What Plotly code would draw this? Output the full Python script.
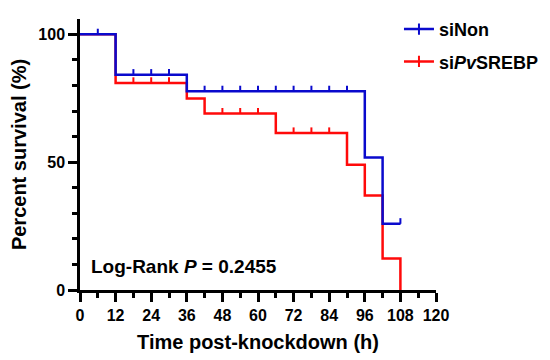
import plotly.graph_objects as go

# Step data (Kaplan-Meier)
blue_name = "siNon"
blue_t = [0, 12, 36, 96, 102, 108]
blue_s = [100, 84.2, 77.7, 51.8, 25.9, 25.9]
blue_cens_t = [6, 18, 24, 30, 42, 48, 54, 60, 66, 72, 78, 84, 90, 108]
blue_cens_s = [100, 84.2, 84.2, 84.2, 77.7, 77.7, 77.7, 77.7, 77.7, 77.7, 77.7, 77.7, 77.7, 25.9]

red_name = "si<i>Pv</i>SREBP"
red_t = [0, 12, 36, 42, 66, 90, 96, 102, 108]
red_s = [100, 81.0, 74.9, 69.0, 61.4, 49.0, 37.0, 12.3, 0]
red_cens_t = [18, 24, 30, 48, 54, 60, 72, 78, 84]
red_cens_s = [81.0, 81.0, 81.0, 69.0, 69.0, 69.0, 61.4, 61.4, 61.4]

x_ticks = [0, 12, 24, 36, 48, 60, 72, 84, 96, 108, 120]
y_ticks = [0, 50, 100]

BLUE = "#0A0ACD"
RED = "#FF0A0A"
FONT = "Liberation Sans, Arial, sans-serif"
LW = 2.5
CENS_H = 2.2  # censor tick height (in % units)

fig = go.Figure()

# legend-only entries
for name, col in [(blue_name, BLUE), (red_name, RED)]:
    fig.add_trace(go.Scatter(
        x=[None], y=[None], mode="lines+markers", name=name,
        line=dict(color=col, width=LW),
        marker=dict(symbol="line-ns", size=8, line=dict(color=col, width=2)),
        legendgroup=name,
    ))

for t, s, ct, cs, col in [(red_t, red_s, red_cens_t, red_cens_s, RED),
                          (blue_t, blue_s, blue_cens_t, blue_cens_s, BLUE)]:
    fig.add_trace(go.Scatter(
        x=t, y=s, mode="lines", line=dict(color=col, width=LW, shape="hv"),
        showlegend=False, cliponaxis=False, hoverinfo="skip",
    ))
    fig.add_trace(go.Scatter(
        x=ct, y=cs, mode="markers", marker=dict(size=1, color=col),
        error_y=dict(type="data", symmetric=False, array=[CENS_H] * len(ct),
                     arrayminus=[0] * len(ct), width=0, thickness=2, color=col),
        showlegend=False, cliponaxis=False, hoverinfo="skip",
    ))

fig.add_annotation(
    x=3.0, y=9.0, xref="x", yref="y", xanchor="left", yanchor="middle",
    text="Log-Rank <i>P</i> = 0.2455", showarrow=False,
    font=dict(family=FONT, size=19, color="black", weight="bold"),
)

axis_common = dict(
    showgrid=False, zeroline=False, showline=True, linecolor="black",
    linewidth=2.5, ticks="outside", ticklen=9, tickwidth=2.5, tickcolor="black",
    tickfont=dict(family=FONT, size=16, color="black", weight="bold"),
)

fig.update_xaxes(
    **axis_common, range=[0, 120], tickmode="array", tickvals=x_ticks,
    ticktext=[str(v) for v in x_ticks],
    minor=dict(ticks="outside", dtick=6, ticklen=5, tickwidth=2.5, tickcolor="black"),
    title=dict(text="Time post-knockdown (h)", standoff=13,
               font=dict(family=FONT, size=20, color="black", weight="bold")),
)
fig.update_yaxes(
    **axis_common, range=[0, 106], tickmode="array", tickvals=y_ticks,
    ticktext=[str(v) for v in y_ticks],
    minor=dict(ticks="outside", tickvals=[10, 20, 30, 40, 60, 70, 80, 90],
               ticklen=5, tickwidth=2.5, tickcolor="black"),
    title=dict(text="Percent survival (%)", standoff=8,
               font=dict(family=FONT, size=20, color="black", weight="bold")),
)

fig.update_layout(
    width=550, height=360,
    margin=dict(l=72, r=122, t=11, b=78, autoexpand=False),
    paper_bgcolor="white", plot_bgcolor="white",
    showlegend=True,
    legend=dict(x=0.896, y=1.03, xanchor="left", yanchor="top",
                font=dict(family=FONT, size=18, color="black", weight="bold"),
                bgcolor="rgba(0,0,0,0)", tracegroupgap=6, itemwidth=30),
)

fig.write_html("out.html")
